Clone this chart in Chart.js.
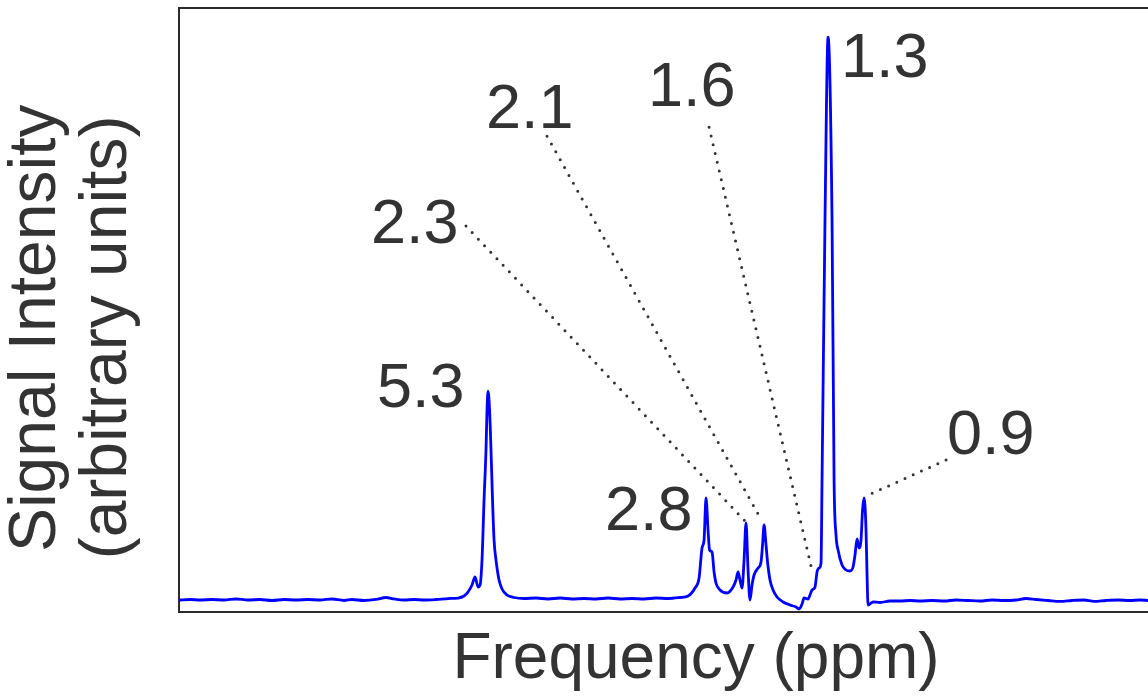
<!DOCTYPE html>
<html>
<head>
<meta charset="utf-8">
<title>Espectro 1H RMN</title>
<script src="https://cdn.jsdelivr.net/npm/chart.js@4.4.1/dist/chart.umd.min.js"></script>
<style>
  html, body { margin: 0; padding: 0; background: #fff; overflow: hidden; }
  #wrap { width: 1216px; height: 700px; }
</style>
</head>
<body>
<div id="wrap"><canvas id="chart1" width="1216" height="700"></canvas></div>
<script>
/** Spectrum trace: chemical shift (ppm) and intensity (a.u., tallest peak ~100) */
const ppm = [
  8.950, 8.820, 8.702, 8.561, 8.419, 8.277, 8.136, 7.994, 7.853, 7.711,
  7.569, 7.428, 7.286, 7.145, 7.003, 6.909, 6.767, 6.626, 6.508, 6.413,
  6.295, 6.177, 6.059, 5.918, 5.776, 5.658, 5.587, 5.540, 5.493, 5.457,
  5.422, 5.398, 5.375, 5.351, 5.328, 5.316, 5.304, 5.286, 5.269, 5.251,
  5.233, 5.210, 5.174, 5.139, 5.080, 4.997, 4.879, 4.738, 4.596, 4.454,
  4.313, 4.171, 4.030, 3.888, 3.746, 3.605, 3.463, 3.322, 3.180, 3.038,
  2.944, 2.862, 2.814, 2.779, 2.755, 2.732, 2.708, 2.690, 2.661, 2.637,
  2.614, 2.567, 2.484, 2.413, 2.378, 2.354, 2.331, 2.307, 2.283, 2.260,
  2.236, 2.213, 2.189, 2.165, 2.118, 2.083, 2.065, 2.047, 2.024, 2.006,
  1.977, 1.941, 1.894, 1.823, 1.741, 1.670, 1.634, 1.599, 1.575, 1.528,
  1.505, 1.481, 1.446, 1.422, 1.398, 1.375, 1.363, 1.328, 1.292, 1.245,
  1.221, 1.198, 1.174, 1.127, 1.080, 1.033, 0.997, 0.974, 0.950, 0.926,
  0.903, 0.885, 0.867, 0.844, 0.832, 0.820, 0.761, 0.679, 0.561, 0.443,
  0.325, 0.207, 0.065, -0.077, -0.218, -0.360, -0.501, -0.643, -0.785, -0.926,
  -1.044, -1.162, -1.304, -1.445, -1.587, -1.728, -1.846, -1.988, -2.130, -2.271,
  -2.389, -2.507, -2.684, -2.861, -3.038, -3.250
];
const intensity = [
  0.00, 0.09, 0.00, 0.09, 0.00, 0.18, 0.00, 0.09, -0.09, 0.09,
  0.00, 0.09, 0.00, 0.18, -0.09, 0.09, -0.09, 0.09, 0.44, 0.18,
  0.00, 0.09, 0.00, 0.09, 0.26, 0.35, 0.71, 1.41, 2.65, 4.06,
  2.30, 2.65, 7.07, 17.66, 26.50, 33.56, 36.92, 33.56, 26.50, 17.66,
  10.60, 7.07, 3.53, 1.94, 0.88, 0.44, 0.26, 0.35, 0.18, 0.35,
  0.18, 0.26, 0.18, 0.35, 0.18, 0.26, 0.18, 0.35, 0.26, 0.44,
  0.71, 2.12, 3.89, 9.19, 10.60, 18.02, 12.37, 8.83, 8.48, 4.95,
  3.00, 1.77, 1.24, 2.30, 3.53, 4.95, 3.53, 2.12, 7.07, 13.60,
  5.30, 0.00, 2.65, 4.42, 5.65, 6.71, 9.72, 13.25, 9.72, 6.71,
  3.53, 1.77, 0.53, -0.35, -0.88, -1.24, -1.59, -0.71, 0.35, 0.18,
  0.88, 1.77, 2.30, 4.95, 5.65, 6.54, 21.20, 67.13, 99.45, 67.13,
  21.20, 11.48, 8.83, 6.18, 5.30, 5.12, 5.83, 7.95, 10.78, 9.19,
  10.60, 15.90, 18.02, 12.37, 4.42, -0.88, -0.35, -0.44, -0.18, -0.18,
  -0.09, -0.18, -0.09, -0.18, 0.00, -0.09, -0.18, 0.00, -0.09, 0.00,
  0.26, 0.09, -0.09, -0.26, -0.09, 0.00, -0.26, -0.09, 0.00, -0.09,
  0.00, -0.09, 0.00, -0.09, 0.00, 0.00
];

/** Peak assignments written over the spectrum (anchor = left end of the text baseline) */
const peakLabels = ['5.3', '2.8', '2.3', '2.1', '1.6', '1.3', '0.9'];
const labelPpm = [6.614, 3.923, 6.685, 5.328, 3.416, 1.140, -0.112];
const labelIntensity = [34.09, 12.37, 63.06, 83.38, 87.26, 92.39, 25.79];

/** Dotted leaders from a label to its peak */
const leaderStartPpm = [5.564, 4.608, 2.696, -0.100];
const leaderStartInt = [66.07, 81.96, 83.55, 24.73];
const leaderEndPpm = [2.272, 2.071, 1.493, 0.844];
const leaderEndInt = [13.96, 13.96, 6.01, 18.37];

const ink = '#333333';
const fontFamily = '"Liberation Sans", Arial, Helvetica, sans-serif';
Chart.defaults.font.family = fontFamily;

const peakText = {
    id: 'peakText',
    afterDatasetsDraw(chart) {
        const { ctx, scales: { x, y } } = chart;
        ctx.save();
        ctx.font = '63px ' + fontFamily;
        ctx.fillStyle = ink;
        ctx.textAlign = 'left';
        ctx.textBaseline = 'alphabetic';
        peakLabels.forEach((txt, i) => {
            ctx.fillText(txt, x.getPixelForValue(labelPpm[i]), y.getPixelForValue(labelIntensity[i]));
        });
        ctx.restore();
    }
};

const leaders = leaderStartPpm.map((p, i) => ({
    data: [
        { x: p, y: leaderStartInt[i] },
        { x: leaderEndPpm[i], y: leaderEndInt[i] }
    ],
    borderColor: ink,
    borderWidth: 3,
    borderDash: [0, 9],
    borderCapStyle: 'round',
    pointRadius: 0,
    order: 1
}));

// frame line shared by all four sides
const frame = { display: true, color: '#2b2b2b', width: 2 };
const hidden = { display: false, drawTicks: false };

const ctx1 = document.getElementById('chart1').getContext('2d');
const spectrumChart = new Chart(ctx1, {
    type: 'line',
    data: {
        datasets: [
            {
                data: ppm.map((p, i) => ({ x: p, y: intensity[i] })),
                borderColor: '#0000ff',
                borderWidth: 2.8,
                pointRadius: 0,
                cubicInterpolationMode: 'monotone',
                order: 0
            },
            ...leaders
        ]
    },
    options: {
        responsive: false,
        animation: false,
        devicePixelRatio: 1,
        layout: { padding: { top: 8, right: 3, bottom: 0, left: 0 } },
        plugins: {
            legend: { display: false },
            tooltip: { enabled: false }
        },
        scales: {
            x: {
                type: 'linear',
                position: 'bottom',
                reverse: true,
                min: -3.25,
                max: 8.95,
                grid: hidden,
                ticks: { display: false },
                border: frame,
                title: {
                    display: true,
                    text: 'Frequency (ppm)',
                    color: ink,
                    font: { size: 64, lineHeight: 1.08 },
                    padding: { top: 14, bottom: 5 }
                }
            },
            xTop: {
                type: 'linear',
                position: 'top',
                reverse: true,
                min: -3.25,
                max: 8.95,
                grid: hidden,
                ticks: { display: false },
                border: frame
            },
            y: {
                type: 'linear',
                position: 'left',
                min: -2.1,
                max: 104.6,
                grid: hidden,
                ticks: { display: false },
                border: frame,
                title: {
                    display: true,
                    text: ['Signal Intensity  ', '(arbitrary units)   '],
                    color: ink,
                    font: { size: 66, lineHeight: 1.076 },
                    padding: { top: 1.6, bottom: 35.4 }
                }
            },
            yRight: {
                type: 'linear',
                position: 'right',
                min: -2.1,
                max: 104.6,
                grid: hidden,
                ticks: { display: false },
                border: frame
            }
        }
    },
    plugins: [peakText]
});
</script>
</body>
</html>
